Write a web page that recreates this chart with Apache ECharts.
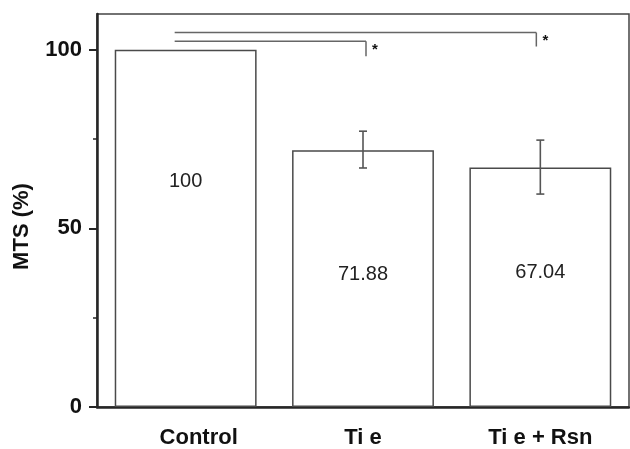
<!DOCTYPE html>
<html>
<head>
<meta charset="utf-8">
<script src="https://cdn.jsdelivr.net/npm/echarts@6/dist/echarts.min.js"></script>
<style>
  html, body { margin: 0; padding: 0; background: #fff; }
  #chart { width: 630px; height: 449px; }
</style>
</head>
<body>
<div id="chart"></div>
<script>
// Groups and mean MTS values (% of control)
const categories = ['Control', 'Ti e', 'Ti e + Rsn'];
const mtsValues = [100, 71.88, 67.04];
// Error bar extents [low, high] per group (null = no bar)
const errLow = [null, 66.9, 59.6];
const errHigh = [null, 77.2, 74.7];
// Y axis ticks
const yMajorTicks = [0, 50, 100];
const yMinorTicks = [25, 75];
// Significance brackets: [fromIndex, toIndex, level, dropTo, text]
const brackets = [
  [0, 2, 104.8, 100.9, '*'],
  [0, 1, 102.4, 98.2, '*']
];

const FONT = '"Liberation Sans", Arial, sans-serif';
const AXIS = '#262626';
// horizontal nudge of each bracket's drop line, px
const bracketDropShift = [-4, 3];
// vertical nudge of each value label inside its bar, px
const valueLabelShift = [-47, -4, -15];

const chart = echarts.init(document.getElementById('chart'), null, { renderer: 'canvas' });

chart.setOption({
  backgroundColor: '#ffffff',
  animation: false,
  grid: {
    left: 97, top: 14, right: 1, bottom: 41,
    show: true, borderColor: '#444', borderWidth: 1.5, backgroundColor: 'transparent'
  },
  xAxis: {
    type: 'category',
    data: categories.map((c, i) => i === 0
      ? { value: c, textStyle: { padding: [0, 0, 0, 26] } }
      : c),
    axisLine: { lineStyle: { color: AXIS, width: 2.5 } },
    axisTick: { alignWithLabel: true, length: 4, lineStyle: { color: AXIS, width: 1.5 } },
    axisLabel: { color: '#111', fontFamily: FONT, fontWeight: 'bold', fontSize: 22, margin: 20 }
  },
  yAxis: [{
    type: 'value',
    min: 0, max: 110,
    interval: 50,
    name: 'MTS (%)',
    nameLocation: 'middle',
    nameGap: 64,
    nameTextStyle: { color: '#111', fontFamily: FONT, fontWeight: 'bold', fontSize: 22, padding: [0, 32, 0, 0] },
    splitLine: { show: false },
    axisLine: { show: true, lineStyle: { color: AXIS, width: 2.5 } },
    axisTick: { show: true, length: 8, customValues: yMajorTicks, lineStyle: { color: AXIS, width: 2 } },
    axisLabel: { customValues: yMajorTicks, color: '#111', fontFamily: FONT, fontWeight: 'bold', fontSize: 22, margin: 15 }
  }, {
    type: 'value',
    min: 0, max: 110,
    position: 'left',
    splitLine: { show: false },
    axisLine: { show: false },
    axisTick: { show: true, length: 4, customValues: yMinorTicks, lineStyle: { color: AXIS, width: 1.5 } },
    axisLabel: { show: false }
  }],
  series: [{
    type: 'bar',
    data: mtsValues.map((v, i) => ({
      value: v,
      label: { offset: [0, valueLabelShift[i]] }
    })),
    barWidth: '80%',
    itemStyle: { color: '#ffffff', borderColor: '#4a4a4a', borderWidth: 1.5 },
    label: {
      show: true,
      position: 'inside',
      color: '#222',
      fontFamily: FONT,
      fontSize: 20,
      formatter: p => String(p.value)
    }
  }, {
    type: 'custom',
    data: categories.map((c, i) => [i, errLow[i], errHigh[i]]).filter(d => d[1] !== null),
    renderItem: (params, api) => {
      const i = api.value(0);
      const lo = api.coord([i, api.value(1)]);
      const hi = api.coord([i, api.value(2)]);
      const cap = 4;
      const st = { stroke: '#555', lineWidth: 1.6 };
      return {
        type: 'group',
        children: [
          { type: 'line', shape: { x1: lo[0], y1: lo[1], x2: hi[0], y2: hi[1] }, style: st },
          { type: 'line', shape: { x1: hi[0] - cap, y1: hi[1], x2: hi[0] + cap, y2: hi[1] }, style: st },
          { type: 'line', shape: { x1: lo[0] - cap, y1: lo[1], x2: lo[0] + cap, y2: lo[1] }, style: st }
        ]
      };
    },
    z: 5
  }, {
    type: 'custom',
    data: brackets,
    renderItem: (params, api) => {
      const a = api.coord([api.value(0), api.value(2)]);
      const b = api.coord([api.value(1), api.value(2)]);
      const d = api.coord([api.value(1), api.value(3)]);
      const x1 = a[0] - 11, x2 = b[0] + bracketDropShift[params.dataIndex];
      const st = { stroke: '#666', lineWidth: 1.5 };
      return {
        type: 'group',
        children: [
          { type: 'line', shape: { x1: x1, y1: a[1], x2: x2, y2: b[1] }, style: st },
          { type: 'line', shape: { x1: x2, y1: b[1], x2: x2, y2: d[1] }, style: st },
          { type: 'text', style: { x: x2 + 9, y: b[1] + 1, text: brackets[params.dataIndex][4], fill: '#111', font: 'bold 15px ' + FONT, textAlign: 'center', textVerticalAlign: 'top' } }
        ]
      };
    },
    z: 5
  }]
});
</script>
</body>
</html>
